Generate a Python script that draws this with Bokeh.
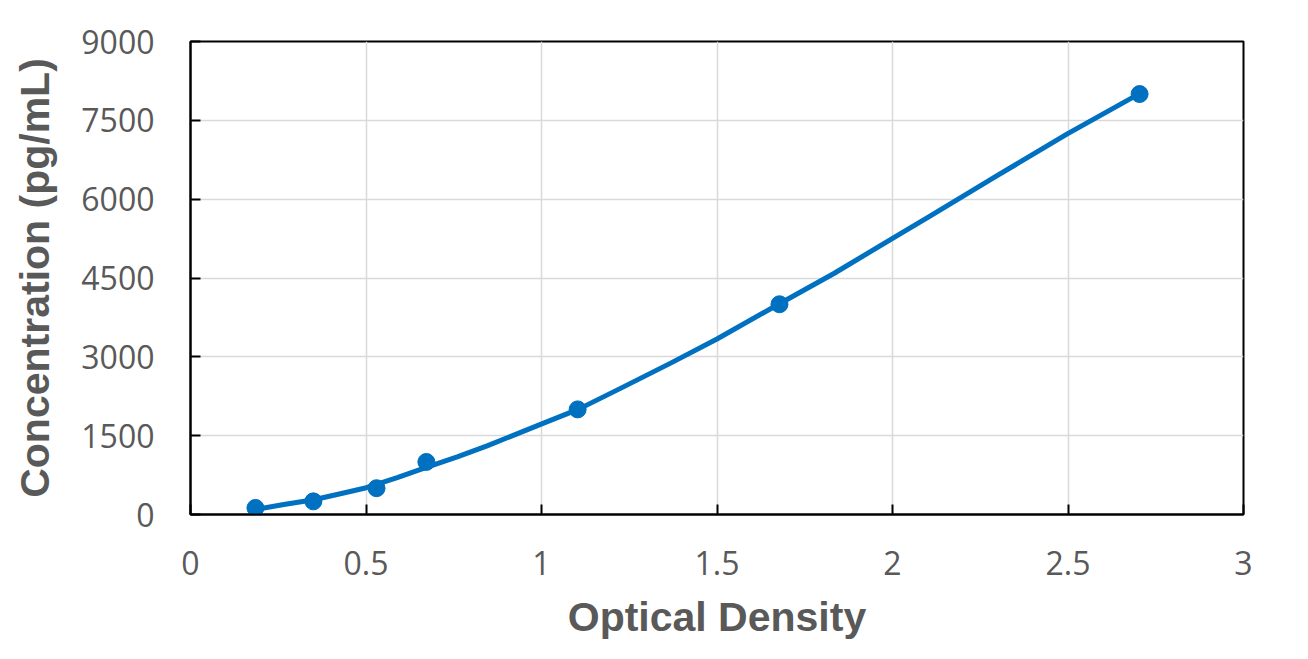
from bokeh.plotting import figure
from bokeh.models import Range1d, FixedTicker, CustomJSTickFormatter
from bokeh.embed import file_html
from bokeh.resources import INLINE

# Standard points (optical density vs concentration)
od_points = [0.185, 0.35, 0.53, 0.672, 1.103, 1.678, 2.704]
conc_points = [125, 250, 500, 1000, 2000, 4000, 8000]

# Fitted curve
curve_od = [0.185, 0.266, 0.351, 0.427, 0.501, 0.589, 0.674, 0.760, 0.845,
            0.999, 1.106, 1.225, 1.368, 1.500, 1.678, 1.833, 1.999, 2.108,
            2.298, 2.498, 2.700]
curve_conc = [95, 190, 280, 395, 510, 700, 900, 1095, 1305,
              1720, 2005, 2400, 2880, 3340, 4010, 4586, 5249, 5681,
              6446, 7243, 7995]

x_ticks = [0, 0.5, 1, 1.5, 2, 2.5, 3]
y_ticks = [0, 1500, 3000, 4500, 6000, 7500, 9000]

W, H = 1308, 659
p = figure(width=W, height=H, output_backend="svg", toolbar_location=None,
           x_range=Range1d(0, 3), y_range=Range1d(0, 9000),
           min_border_left=190, min_border_right=65, min_border_top=41, min_border_bottom=145)
p.background_fill_color = "white"
p.border_fill_color = "white"
p.outline_line_color = "black"
p.outline_line_width = 2

blue = "#0070C0"
p.line(curve_od, curve_conc, line_color=blue, line_width=5, line_join="round")
p.scatter(od_points, conc_points, size=17, fill_color=blue, line_color=blue)

grey = "#595959"
for ax in (p.xaxis[0], p.yaxis[0]):
    ax.axis_line_color = "black"
    ax.axis_line_width = 2
    ax.major_tick_in = 10
    ax.major_tick_out = 0
    ax.major_tick_line_color = "black"
    ax.major_tick_line_width = 2
    ax.minor_tick_line_color = None
    ax.major_label_text_font = "Open Sans"
    ax.major_label_text_font_size = "32px"
    ax.major_label_text_color = grey
    ax.axis_label_text_font = "Liberation Sans"
    ax.axis_label_text_font_style = "bold"
    ax.axis_label_text_font_size = "41px"
    ax.axis_label_text_color = grey

p.xaxis.ticker = FixedTicker(ticks=x_ticks)
p.yaxis.ticker = FixedTicker(ticks=y_ticks)
p.xaxis.formatter = CustomJSTickFormatter(code="return String(tick);")
p.yaxis.formatter = CustomJSTickFormatter(code="return String(tick);")
p.xaxis.axis_label = "Optical Density"
p.yaxis.axis_label = "Concentration (pg/mL)"
p.xaxis.major_label_standoff = 36
p.yaxis.major_label_standoff = 36
p.xaxis.axis_label_standoff = 16
p.yaxis.axis_label_standoff = 20

p.xgrid.grid_line_color = "#d9d9d9"
p.ygrid.grid_line_color = "#d9d9d9"
p.xgrid.grid_line_width = 1.5
p.ygrid.grid_line_width = 1.5

open("out.html", "w").write(file_html(p, INLINE))
